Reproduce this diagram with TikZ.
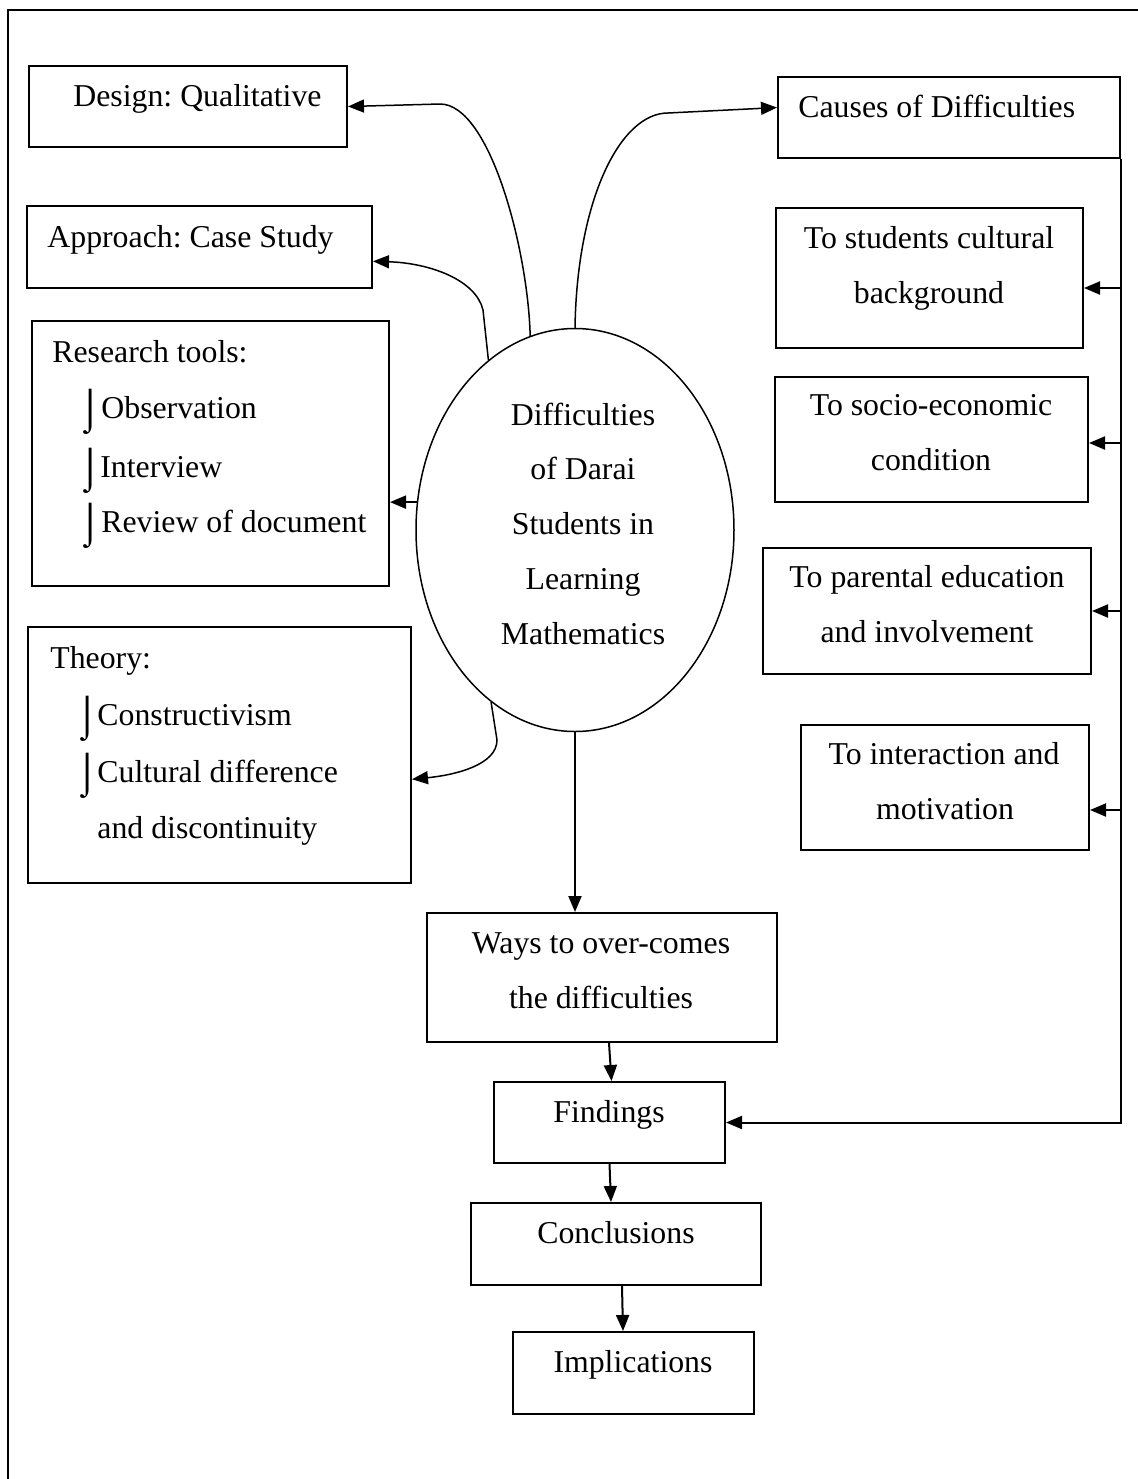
\documentclass[tikz,border=0pt]{standalone}
\usepackage{fontspec}
\setmainfont{Liberation Serif}
\usetikzlibrary{arrows.meta,fit,shapes.geometric,calc}
\frenchspacing
\begin{document}
\begin{tikzpicture}[x=0.5pt,y=-0.5pt,
  box/.style={draw, line width=1pt, inner sep=0pt, fit={#1}},
  txt/.style={inner sep=0pt, font=\fontsize{15.9pt}{27.5pt}\selectfont\frenchspacing},
  lt/.style={txt, anchor=base west},
  ct/.style={txt, anchor=base},
  bul/.style={inner sep=0pt, anchor=base west, font=\fontsize{20pt}{24pt}\selectfont},
  arr/.style={-{Triangle[length=8pt,width=6.5pt]}, line width=1pt},
  curv/.style={-{Triangle[length=8pt,width=6.5pt]}, line width=0.75pt},
]
\useasboundingbox (0,0) rectangle (1138,1479);
% outer frame
\draw[line width=1pt] (8,1479) -- (8,10) -- (1138,10);

% left boxes
\node[box={(29,66)(347,147)}] (design) {};
\node[lt] (designT) at (73,106) {Design: Qualitative};
\node[box={(27,206)(372,288)}] (approach) {};
\node[lt] (approachT) at (47,247) {Approach: Case Study};
\node[box={(32,321)(389,586)}] (research) {};
\node[lt] (researchT) at (52,362) {Research tools:};
\node[bul] (rb1) at (78,422) {⌡};
\node[lt] (r1) at (101,418) {Observation};
\node[bul] (rb2) at (78,481) {⌡};
\node[lt] (r2) at (100,477) {Interview};
\node[bul] (rb3) at (78,536) {⌡};
\node[lt] (r3) at (101,532) {Review of document};
\node[box={(28,627)(411,883)}] (theory) {};
\node[lt] (theoryT) at (50,668) {Theory:};
\node[bul] (tb1) at (75,729) {⌡};
\node[lt] (t1) at (97,725) {Constructivism};
\node[bul] (tb2) at (75,786) {⌡};
\node[lt] (t2) at (97,782) {Cultural difference};
\node[lt] (t3) at (97,838) {and discontinuity};

% central ellipse
\node[draw, ellipse, line width=0.75pt, minimum width=159pt, minimum height=201.5pt, inner sep=0pt] (E) at (575,530) {};
\node[ct] (e1) at (583,425) {Difficulties};
\node[ct] (e2) at (583,479) {of Darai};
\node[ct] (e3) at (583,534) {Students in};
\node[ct] (e4) at (583,589) {Learning};
\node[ct] (e5) at (583,644) {Mathematics};

% right boxes
\node[box={(778,77)(1120,158)}] (causes) {};
\node[lt] (causesT) at (798,117) {Causes of Difficulties};
\node[box={(776,208)(1083,348)}] (s1) {};
\node[ct] (s1a) at (929,248) {To students cultural};
\node[ct] (s1b) at (929,303) {background};
\node[box={(775,377)(1088,502)}] (s2) {};
\node[ct] (s2a) at (931,415) {To socio-economic};
\node[ct] (s2b) at (931,470) {condition};
\node[box={(763,548)(1091,674)}] (s3) {};
\node[ct] (s3a) at (927,587) {To parental education};
\node[ct] (s3b) at (927,642) {and involvement};
\node[box={(801,725)(1089,850)}] (s4) {};
\node[ct] (s4a) at (944,764) {To interaction and};
\node[ct] (s4b) at (945,819) {motivation};

% lower chain
\node[box={(427,913)(777,1042)}] (ways) {};
\node[ct] (w1) at (601,953) {Ways to over-comes};
\node[ct] (w2) at (601,1008) {the difficulties};
\node[box={(494,1082)(725,1163)}] (findings) {};
\node[ct] (fT) at (609,1122) {Findings};
\node[box={(471,1203)(761,1285)}] (concl) {};
\node[ct] (cT) at (616,1243) {Conclusions};
\node[box={(513,1332)(754,1414)}] (impl) {};
\node[ct] (iT) at (633,1372) {Implications};

% connectors from the ellipse
\draw[curv] (E.103) .. controls (528,250) and (490,104) .. (440,104) -- (design.east);
\coordinate (cEnd) at ($(causes.north west)!0.38!(causes.south west)$);
\draw[curv] (E.north) .. controls (577,200) and (620,113) .. (668,113) -- (cEnd);
\coordinate (aEnd) at ($(approach.north east)!0.67!(approach.south east)$);
\draw[curv] (E.117) -- (483,310) .. controls (476,280) and (430,263) .. (aEnd);
\draw[arr] (E.170) -- (E.170 -| research.east);
\coordinate (tEnd) at ($(theory.north east)!0.594!(theory.south east)$);
\draw[curv] (E.244) -- (497,740) .. controls (497,765) and (455,775) .. (tEnd);
\draw[arr] (E.south) -- (E.south |- ways.north);

% chain arrows
\draw[arr] ([xshift=3.5pt]ways.south) -- ([xshift=1pt]findings.north);
\draw[arr] (findings.south) -- ([xshift=-2.5pt]concl.north);
\draw[arr] ([xshift=3pt]concl.south) -- ([xshift=-5.25pt]impl.north);

% right bus
\draw[arr] (causes.south east) |- (findings.east);
\coordinate (a1) at ([yshift=-5pt]s1.east);
\coordinate (a2) at ([yshift=-1.75pt]s2.east);
\coordinate (a3) at (s3.east);
\coordinate (a4) at ([yshift=-11.25pt]s4.east);
\draw[arr] (causes.south east |- a1) -- (a1);
\draw[arr] (causes.south east |- a2) -- (a2);
\draw[arr] (causes.south east |- a3) -- (a3);
\draw[arr] (causes.south east |- a4) -- (a4);
\end{tikzpicture}
\end{document}
